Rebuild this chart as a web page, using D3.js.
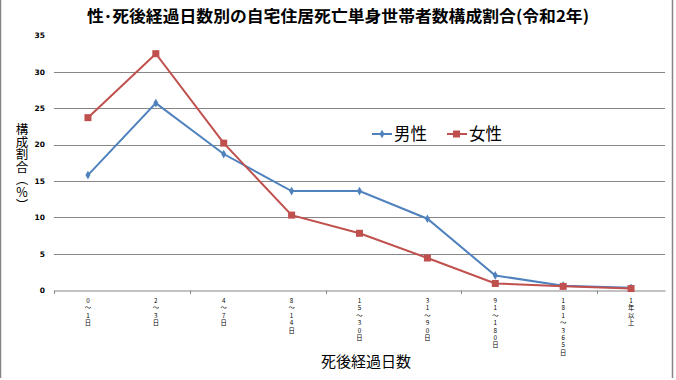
<!DOCTYPE html>
<html>
<head>
<meta charset="utf-8">
<script src="https://cdn.jsdelivr.net/npm/d3@7"></script>
<style>
  html, body { margin: 0; padding: 0; background: #fff; }
  svg { display: block; }
</style>
</head>
<body>
<svg id="chart" width="676" height="380"></svg>
<script>
const title = "性･死後経過日数別の自宅住居死亡単身世帯者数構成割合(令和2年)";
const categories = ["0～1日", "2～3日", "4～7日", "8～14日", "15～30日", "31～90日", "91～180日", "181～365日", "1年以上"];
const maleValues = [15.8, 25.7, 18.7, 13.6, 13.6, 9.8, 2.0, 0.6, 0.3];
const femaleValues = [23.7, 32.5, 20.2, 10.3, 7.8, 4.4, 0.9, 0.5, 0.2];
const seriesNames = ["男性", "女性"];
const yTicks = [0, 5, 10, 15, 20, 25, 30, 35];
const yTitleChars = ["構", "成", "割", "合", "︵", "%", "︶"];
const xTitle = "死後経過日数";

const svg = d3.select("#chart");
const W = 676, H = 380;
const plot = { left: 54, right: 665, top: 35.5, bottom: 290 };
const blue = "#4F81BD", red = "#C0504D", grid = "#868686";
const font = "'Noto Sans CJK JP', 'Noto Sans', sans-serif";

svg.append("rect").attr("width", W).attr("height", H).attr("fill", "#fff");
// outer frame
svg.append("line").attr("x1", 0.5).attr("x2", 0.5).attr("y1", 0).attr("y2", 378).attr("stroke", grid).attr("stroke-width", 1.5);
svg.append("line").attr("x1", 672.5).attr("x2", 672.5).attr("y1", 0).attr("y2", 378).attr("stroke", grid).attr("stroke-width", 1.5);

const x = d3.scaleBand().domain(categories).range([plot.left, plot.right]);
const y = d3.scaleLinear().domain([0, 35]).range([plot.bottom, plot.top]);

// gridlines
svg.append("g").selectAll("line").data(yTicks.filter(t => t > 0 && t < 35)).join("line")
  .attr("x1", plot.left).attr("x2", plot.right)
  .attr("y1", d => Math.round(y(d)) + 0.5).attr("y2", d => Math.round(y(d)) + 0.5)
  .attr("stroke", grid).attr("stroke-width", 1);

// y axis labels
const yAxis = d3.axisLeft(y).tickValues(yTicks).tickSize(0).tickPadding(0);
const gy = svg.append("g").attr("transform", `translate(${plot.left - 9},0)`).call(yAxis);
gy.select(".domain").remove();
gy.selectAll("text").attr("font-family", "'DejaVu Sans', sans-serif").attr("font-size", 7.5)
  .attr("font-weight", "bold").attr("fill", "#000");

// x axis
const gx = svg.append("g").attr("transform", `translate(0,${Math.round(plot.bottom) + 0.5})`)
  .call(d3.axisBottom(x).tickSize(0).tickFormat(""));
gx.select(".domain").attr("stroke", grid).attr("stroke-width", 1.2);
gx.selectAll(".tick").remove();
// tick marks every second category boundary
const bounds = d3.range(0, categories.length + 1, 2).map(i => plot.left + i * x.step());
gx.selectAll("line.tk").data(bounds).join("line").attr("class", "tk")
  .attr("x1", d => Math.round(d) + 0.5).attr("x2", d => Math.round(d) + 0.5)
  .attr("y1", 0).attr("y2", 3.5).attr("stroke", grid);

// x tick labels, vertical stacked characters (one text per character)
const xl = svg.append("g").attr("font-family", font).attr("font-size", 6.3).attr("fill", "#000")
  .attr("text-anchor", "middle");
categories.forEach(c => {
  const cx = x(c) + x.bandwidth() / 2;
  Array.from(c).forEach((ch, i) => {
    xl.append("text").attr("x", cx).attr("y", 303 + i * 7.4).text(ch);
  });
});

// lines
const line = d3.line().x((d, i) => x(categories[i]) + x.bandwidth() / 2).y(d => y(d));
svg.append("path").datum(maleValues).attr("d", line).attr("fill", "none").attr("stroke", blue).attr("stroke-width", 2);
svg.append("path").datum(femaleValues).attr("d", line).attr("fill", "none").attr("stroke", red).attr("stroke-width", 2);

const diamond = d3.symbol().type(d3.symbolDiamond).size(22);
svg.append("g").selectAll("path").data(maleValues).join("path")
  .attr("d", diamond)
  .attr("transform", (d, i) => `translate(${x(categories[i]) + x.bandwidth() / 2},${y(d)})`)
  .attr("fill", blue);
svg.append("g").selectAll("rect").data(femaleValues).join("rect")
  .attr("x", (d, i) => x(categories[i]) + x.bandwidth() / 2 - 3.5)
  .attr("y", d => y(d) - 3.5).attr("width", 7).attr("height", 7).attr("fill", red);

// legend
const lg = svg.append("g").attr("font-family", font).attr("font-size", 16.5).attr("fill", "#000");
lg.append("line").attr("x1", 372).attr("x2", 392).attr("y1", 134).attr("y2", 134).attr("stroke", blue).attr("stroke-width", 2);
lg.append("path").attr("d", diamond).attr("transform", "translate(382,134)").attr("fill", blue);
lg.append("text").attr("x", 394).attr("y", 140).text(seriesNames[0]);
lg.append("line").attr("x1", 447).attr("x2", 467).attr("y1", 134).attr("y2", 134).attr("stroke", red).attr("stroke-width", 2);
lg.append("rect").attr("x", 453).attr("y", 130.5).attr("width", 7).attr("height", 7).attr("fill", red);
lg.append("text").attr("x", 469).attr("y", 140).text(seriesNames[1]);

// title
svg.append("text").attr("x", 338).attr("y", 22).attr("text-anchor", "middle")
  .attr("font-family", font).attr("font-size", 16).attr("font-weight", "bold").attr("fill", "#000")
  .attr("textLength", 502).attr("lengthAdjust", "spacingAndGlyphs").text(title);

// y title (vertical, one text per character)
const yt = svg.append("g").attr("font-family", font).attr("font-size", 12.5).attr("fill", "#000")
  .attr("text-anchor", "middle");
yTitleChars.forEach((ch, i) => {
  yt.append("text").attr("x", 22).attr("y", 134 + i * 12.6).text(ch);
});

// x title
svg.append("text").attr("x", 366).attr("y", 367).attr("text-anchor", "middle")
  .attr("font-family", font).attr("font-size", 15).attr("fill", "#000").text(xTitle);
</script>
</body>
</html>
